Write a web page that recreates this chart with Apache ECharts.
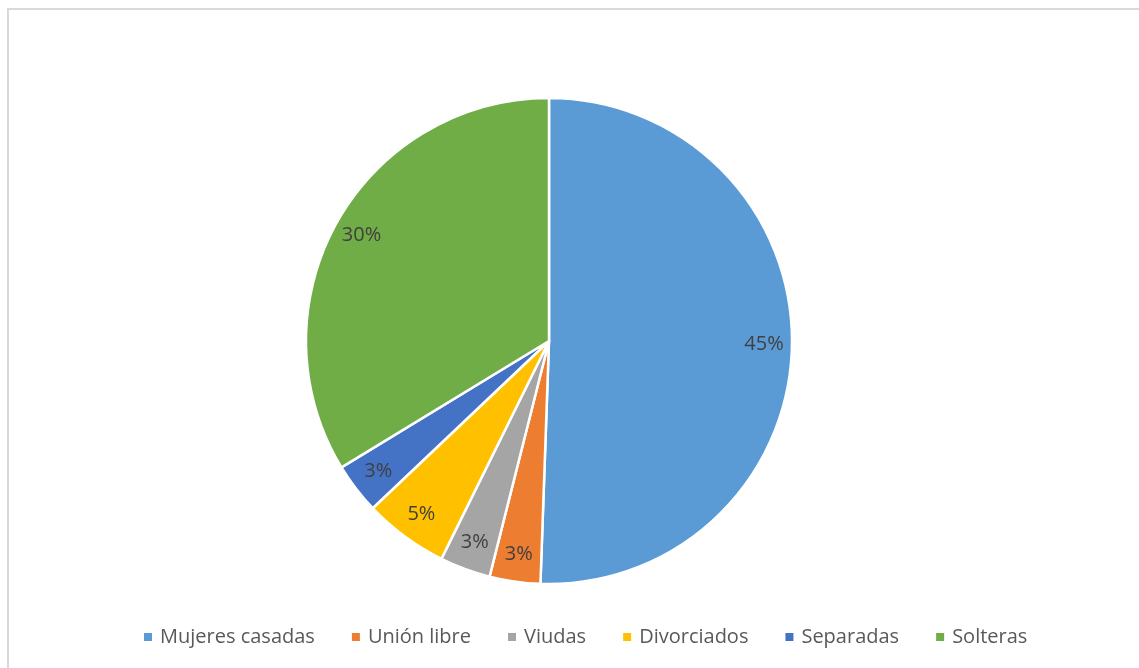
<!DOCTYPE html>
<html>
<head>
<meta charset="utf-8">
<script src="https://cdn.jsdelivr.net/npm/echarts@6/dist/echarts.min.js"></script>
<style>
html,body{margin:0;padding:0;background:#fff;}
#chart{width:1139px;height:668px;}
</style>
</head>
<body>
<div id="chart"></div>
<script>
const categories = ['Mujeres casadas', 'Unión libre', 'Viudas', 'Divorciados', 'Separadas', 'Solteras'];
const values = [45, 3, 3, 5, 3, 30];
const colors = ['#5B9BD5', '#ED7D31', '#A5A5A5', '#FFC000', '#4472C4', '#70AD47'];

const chart = echarts.init(document.getElementById('chart'));
const data = categories.map((c, i) => ({ name: c, value: values[i], itemStyle: { color: colors[i] } }));
const labelData = categories.map((c, i) => ({ name: c, value: values[i] }));

chart.setOption({
  animation: false,
  color: colors,
  graphic: [
    { type: 'rect', shape: { x: 8, y: 9, width: 1140, height: 670 },
      style: { fill: 'none', stroke: '#d9d9d9', lineWidth: 2 }, silent: true }
  ],
  legend: {
    data: categories,
    bottom: 16,
    left: 137,
    icon: 'rect',
    itemWidth: 10,
    itemHeight: 10,
    itemGap: 35,
    textStyle: { color: '#595959', fontSize: 20, fontFamily: '"Open Sans", sans-serif', padding: [0, 0, 0, 2] }
  },
  series: [
    {
      type: 'pie',
      center: [549, 341],
      radius: 243,
      startAngle: 90,
      clockwise: true,
      avoidLabelOverlap: false,
      label: { show: false },
      labelLine: { show: false },
      itemStyle: { borderColor: '#ffffff', borderWidth: 2.5 },
      data: data
    },
    {
      type: 'pie',
      center: [549, 341],
      radius: [181, 243],
      startAngle: 90,
      clockwise: true,
      silent: true,
      avoidLabelOverlap: false,
      itemStyle: { color: 'transparent', borderWidth: 0 },
      label: {
        show: true,
        position: 'inside',
        formatter: '{c}%',
        color: '#404040',
        fontSize: 20,
        fontFamily: '"Open Sans", sans-serif'
      },
      labelLine: { show: false },
      data: labelData
    }
  ]
});
</script>
</body>
</html>
